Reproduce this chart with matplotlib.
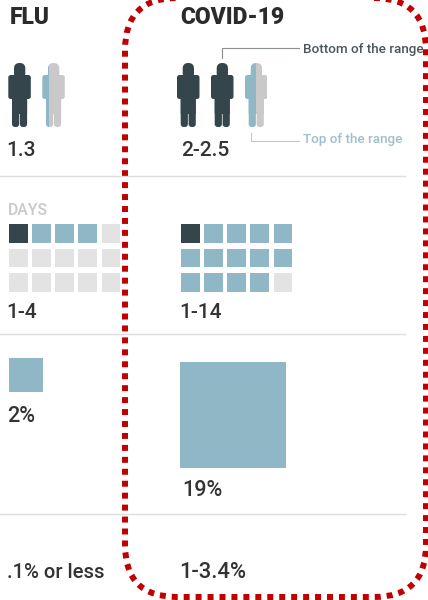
import matplotlib
matplotlib.use('Agg')
import matplotlib.pyplot as plt
from matplotlib.patches import FancyBboxPatch, Rectangle

plt.rcParams['font.family'] = ['Roboto', 'DejaVu Sans']

##### chart values
columns = ['FLU', 'COVID-19']
spread_low = [1.3, 2]
spread_high = [1.3, 2.5]
spread_labels = ['1.3', '2-2.5']
days_low = [1, 1]
days_high = [4, 14]
days_labels = ['1-4', '1-14']
hosp_pct = [2, 19]
hosp_labels = ['2%', '19%']
death_labels = ['.1% or less', '1-3.4%']

##### colours
dark = '#34454c'
blue = '#90b7c6'
grey = '#c9c9c9'
light = '#e3e3e3'
text_col = '#333333'
red = '#c00000'

fig = plt.figure(figsize=(4.28, 6), dpi=100)
ax = fig.add_axes([0, 0, 1, 1])
ax.set_xlim(0, 428)
ax.set_ylim(600, 0)
ax.axis('off')

col_x = [8, 178.5]
person_x = [8.3, 177]
person_step = 34
num = 15


def rounded(x, y, w, h, r, color):
    p = FancyBboxPatch((x, y), w, h, boxstyle='round,pad=0,rounding_size=%g' % r,
                       fc=color, ec='none')
    ax.add_patch(p)
    return p


def person(x, color, part=None):
    # part is (start, stop) as share of the width, None draws the whole figure
    top = 63
    pieces = [rounded(x + 5.7, top, 11.3, 16, 5.5, color),
              rounded(x, top + 12, 22.5, 24, 2.5, color),
              rounded(x + 3.7, top + 14, 15.1, 37, 1, color),
              rounded(x + 3.7, top + 30, 7.2, 34, 3, color),
              rounded(x + 11.6, top + 30, 7.2, 34, 3, color)]
    if part is not None:
        clip = Rectangle((x + part[0] * 22.5, top - 1), (part[1] - part[0]) * 22.5, 66,
                         transform=ax.transData)
        for p in pieces:
            p.set_clip_path(clip)


##### headers
for i in range(2):
    ax.text(col_x[i] + 1.5, 17.5, columns[i], fontsize=16.5, fontweight='black', color='#2b2b2b',
            va='center', ha='left')

##### people row
for i in range(2):
    whole = int(spread_low[i])
    for k in range(whole):
        person(person_x[i] + k * person_step, dark)
    frac = spread_high[i] - whole
    if frac > 0:
        xp = person_x[i] + whole * person_step
        person(xp, blue, (0, frac))
        person(xp, grey, (frac, 1))
ax.text(6.5, 150.5, spread_labels[0], fontsize=num, color=text_col, va='center', fontweight='medium')
ax.text(181, 150.5, spread_labels[1], fontsize=num, color=text_col, va='center', fontweight='medium')

##### range callouts
ax.plot([222, 222, 299], [58, 48, 48], color='#8a8f92', lw=0.8)
ax.text(303, 50, 'Bottom of the range', fontsize=9.7, color='#4b565c', va='center', fontweight='medium')
ax.plot([251.5, 251.5, 299], [133, 141, 141], color='#b5ccd6', lw=0.8)
ax.text(303, 140, 'Top of the range', fontsize=9.7, color='#9dbfcc', va='center', fontweight='medium')

##### incubation days grid
ax.text(7.5, 210.5, 'DAYS', fontsize=11.3, color='#c9c9c9', va='center', fontweight='medium')
grid_x = [9, 181]
for i in range(2):
    for n in range(15):
        row, c = divmod(n, 5)
        if n < days_low[i]:
            col = dark
        elif n < days_high[i]:
            col = blue
        else:
            col = light
        ax.add_patch(Rectangle((grid_x[i] + c * 23.15, 224.3 + row * 24.4), 18.7, 18.7, fc=col, ec='none'))
ax.text(6.5, 312.5, days_labels[0], fontsize=num, color=text_col, va='center', fontweight='medium')
ax.text(179, 312.5, days_labels[1], fontsize=num, color=text_col, va='center', fontweight='medium')

##### hospitalisation squares, area follows the percentage
square_x = [9, 180.5]
square_y = [358, 361.7]
for i in range(2):
    side = (hosp_pct[i] * 590) ** 0.5
    ax.add_patch(Rectangle((square_x[i], square_y[i]), side, side, fc=blue, ec='none'))
ax.text(7, 416.5, hosp_labels[0], fontsize=num + 0.5, color=text_col, va='center', fontweight='medium')
ax.text(182.5, 491, hosp_labels[1], fontsize=num + 0.5, color=text_col, va='center', fontweight='medium')

##### death rate row
ax.text(7.5, 572.5, death_labels[0], fontsize=num - 0.4, color=text_col, va='center', fontweight='medium')
ax.text(179.5, 572.5, death_labels[1], fontsize=num + 0.8, color=text_col, va='center', fontweight='medium')

##### row rules
for y in [175.5, 334, 513.7]:
    ax.plot([0, 405], [y, y], color='#dedede', lw=1)

##### red dotted highlight
ax.add_patch(FancyBboxPatch((125, -2), 301, 599, boxstyle='round,pad=0,rounding_size=52',
                            fc='none', ec=red, lw=4.3, linestyle=(0, (1, 1)), capstyle='butt',
                            clip_on=False))

plt.savefig('out.png', dpi=100)
